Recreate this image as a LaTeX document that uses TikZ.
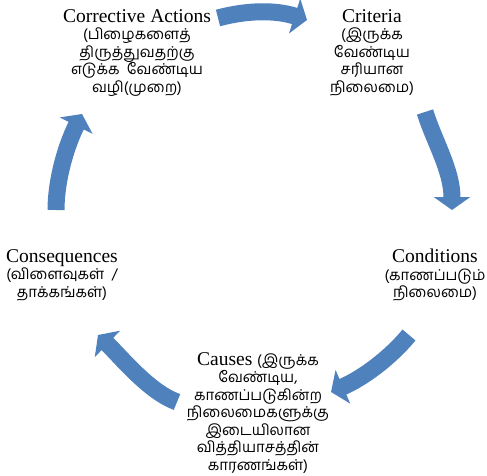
\documentclass[tikz,border=0pt]{standalone}
\usepackage{fontspec}
\setmainfont{Liberation Serif}
\newfontfamily\tamil[Script=Tamil]{Hind Madurai}
\newcommand\tm{\tamil\fontsize{15}{17.5}\selectfont}
\usetikzlibrary{arrows.meta}
\definecolor{cycleblue}{RGB}{79,129,189}

\begin{document}
\begin{tikzpicture}[x=1pt, y=-1pt,
  txt/.style={align=center, inner sep=0pt, anchor=north, font=\fontsize{19.5}{17.5}\selectfont},
  arr/.style={draw=cycleblue, line width=17pt, -{Triangle[width=36pt, length=13pt]}},
]
\useasboundingbox (0,0) rectangle (487,476);

% Stages of the cycle
\node[txt] (corr) at (137, 9) {Corrective Actions\\\tm (பிழைகளைத்\\\tm திருத்துவதற்கு\\\tm எடுக்க~~வேண்டிய\\\tm வழி(முறை)};
\node[txt] (crit) at (372, 9) {Criteria\\\tm (இருக்க\\\tm வேண்டிய\\\tm சரியான\\\tm நிலைமை)};
\node[txt] (cond) at (435, 249) {Conditions\\\tm (காணப்படும்\\\tm நிலைமை)};
\node[txt] (caus) at (258, 352) {Causes {\tm (இருக்க}\\\tm வேண்டிய,\\\tm காணப்படுகின்ற\\\tm நிலைமைகளுக்கு\\\tm இடையிலான\\\tm வித்தியாசத்தின்\\\tm காரணங்கள்)};
\node[txt] (cons) at (62, 249) {Consequences\\\tm (விளைவுகள்~~/\\\tm தாக்கங்கள்)};

% Arrow ends
\coordinate (a1s) at (218,18);  \coordinate (a1e) at (307,20);
\coordinate (a2s) at (425,112); \coordinate (a2e) at (452,210);
\coordinate (a3s) at (409,335); \coordinate (a3e) at (331,392);
\coordinate (a4s) at (177,402); \coordinate (a4e) at (98,335);
\coordinate (a5s) at (56,210);  \coordinate (a5e) at (82,114);

% Arrows
\draw[arr] (a1s) .. controls (248,10) and (276,10) .. (a1e);
\draw[arr] (a2s) .. controls (434,141) and (452,170) .. (a2e);
\draw[arr] (a3s) .. controls (390,358) and (363,378) .. (a3e);
\draw[arr] (a4s) .. controls (149,392) and (120,356) .. (a4e);
\draw[arr] (a5s) .. controls (56,180) and (66,146) .. (a5e);
\end{tikzpicture}
\end{document}
